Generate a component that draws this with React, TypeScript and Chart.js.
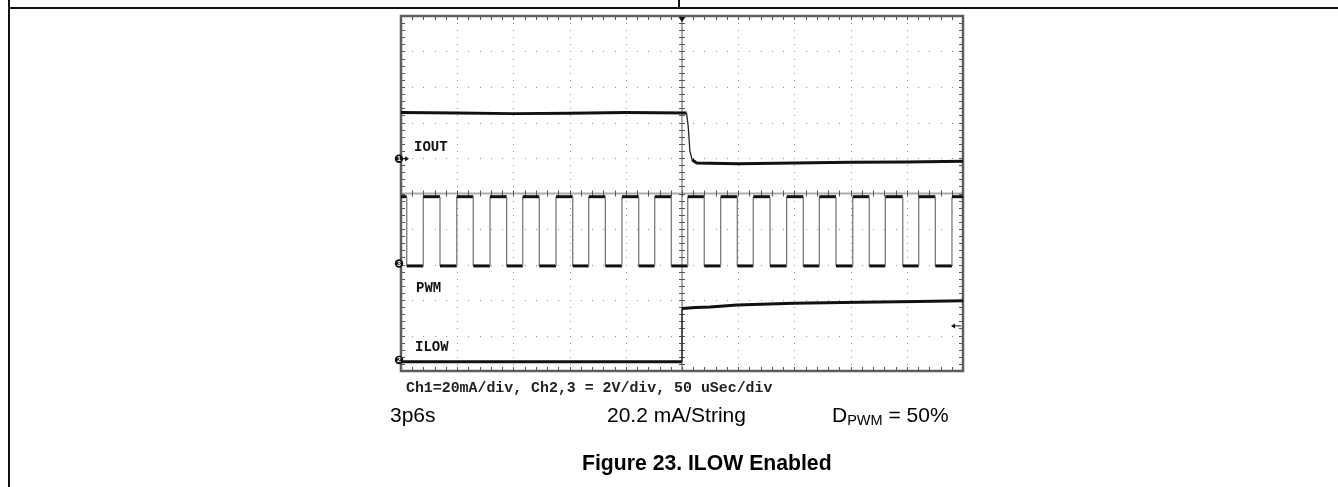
import React, { useEffect, useRef } from "react";
import { Chart, registerables } from "chart.js";

Chart.register(...registerables);

// ---- Data (time in µs, amplitude in screen divisions from the bottom of the graticule) ----
const X_DIVISIONS = 10;
const US_PER_DIV = 50;
const Y_DIVISIONS = 10;
const MINOR_PER_DIV = 5;

const ioutTimeUs = [0, 50, 100, 150, 200, 254, 255.5, 257, 259, 263, 300, 350, 400, 450, 500];
const ioutDiv = [7.28, 7.27, 7.25, 7.26, 7.28, 7.27, 6.9, 6.2, 5.95, 5.86, 5.84, 5.86, 5.88, 5.89, 5.91];

// PWM starts high; each entry toggles the level (fall, rise, fall, ...)
const pwmEdgesUs = [
  5.1, 19.8, 34.7, 49.6, 64.3, 79.2, 94.0, 108.3, 123.0, 137.9, 152.8, 167.0,
  181.8, 196.6, 211.5, 225.7, 240.5, 255.1, 269.8, 284.4, 299.2, 313.4, 328.3,
  343.1, 357.9, 372.2, 387.0, 401.9, 416.6, 430.9, 446.4, 460.6, 475.4, 490.2,
];
const pwmHighDiv = 4.91;
const pwmLowDiv = 2.96;

const ilowTimeUs = [0, 100, 200, 250, 250, 262, 275, 299, 349, 408, 460, 500];
const ilowDiv = [0.26, 0.26, 0.26, 0.26, 1.76, 1.79, 1.8, 1.86, 1.91, 1.94, 1.96, 1.98];

const channelNames = ["1", "3", "2"];
const channelGroundDiv = [5.98, 3.03, 0.31];
const triggerTimeUs = 250;
const triggerLevelDiv = 1.27;

const traceLabels = ["IOUT", "PWM", "ILOW"];
const scaleCaption = "Ch1=20mA/div, Ch2,3 = 2V/div, 50 uSec/div";
const conditionTexts = ["3p6s", "20.2 mA/String"];
const figureCaption = "Figure 23. ILOW Enabled";

// ---- helpers ----
const zip = (xs: number[], ys: number[]) => xs.map((x, i) => ({ x, y: ys[i] }));

function buildPwm() {
  const tEnd = X_DIVISIONS * US_PER_DIV;
  let lvl = pwmHighDiv;
  const pts = [{ x: 0, y: lvl }];
  for (const t of pwmEdgesUs) {
    pts.push({ x: t, y: lvl });
    lvl = lvl === pwmHighDiv ? pwmLowDiv : pwmHighDiv;
    pts.push({ x: t, y: lvl });
  }
  pts.push({ x: tEnd, y: lvl });
  return pts;
}

const steep = (ctx: any) => {
  const dx = Math.abs(ctx.p1.x - ctx.p0.x);
  const dy = Math.abs(ctx.p1.y - ctx.p0.y);
  return dy > 2 * dx + 1;
};

const graticulePlugin = {
  id: "graticule",
  beforeDatasetsDraw(chart: any) {
    const { ctx, chartArea } = chart;
    const { left, right, top, bottom } = chartArea;
    const xs = chart.scales.x;
    const ys = chart.scales.y;
    const tEnd = X_DIVISIONS * US_PER_DIV;
    const minorX = US_PER_DIV / MINOR_PER_DIV;
    const minorY = 1 / MINOR_PER_DIV;
    ctx.save();
    // dotted grid
    ctx.fillStyle = "#8c8c8c";
    for (let i = 1; i < X_DIVISIONS; i++) {
      if (i === X_DIVISIONS / 2) continue;
      const gx = Math.round(xs.getPixelForValue(i * US_PER_DIV));
      for (let j = 1; j < Y_DIVISIONS * MINOR_PER_DIV; j++) {
        const py = Math.round(ys.getPixelForValue(j * minorY));
        ctx.fillRect(gx, py, 1, 1);
      }
    }
    for (let i = 1; i < Y_DIVISIONS; i++) {
      if (i === Y_DIVISIONS / 2) continue;
      const gy = Math.round(ys.getPixelForValue(i));
      for (let j = 1; j < X_DIVISIONS * MINOR_PER_DIV; j++) {
        const px = Math.round(xs.getPixelForValue(j * minorX));
        ctx.fillRect(px, gy, 1, 1);
      }
    }
    // center cross
    const cx = xs.getPixelForValue(tEnd / 2);
    const cy = ys.getPixelForValue(Y_DIVISIONS / 2);
    ctx.strokeStyle = "#ababab";
    ctx.lineWidth = 2;
    ctx.beginPath();
    ctx.moveTo(cx, top);
    ctx.lineTo(cx, bottom);
    ctx.moveTo(left, cy);
    ctx.lineTo(right, cy);
    ctx.stroke();
    ctx.strokeStyle = "#555";
    ctx.lineWidth = 1;
    ctx.beginPath();
    for (let j = 1; j < Y_DIVISIONS * MINOR_PER_DIV; j++) {
      const py = Math.round(ys.getPixelForValue(j * minorY)) + 0.5;
      ctx.moveTo(cx - 3, py);
      ctx.lineTo(cx + 3, py);
      ctx.moveTo(left, py);
      ctx.lineTo(left + 4, py);
      ctx.moveTo(right - 4, py);
      ctx.lineTo(right, py);
    }
    for (let j = 1; j < X_DIVISIONS * MINOR_PER_DIV; j++) {
      const px = Math.round(xs.getPixelForValue(j * minorX)) + 0.5;
      ctx.moveTo(px, cy - 3);
      ctx.lineTo(px, cy + 3);
      ctx.moveTo(px, top);
      ctx.lineTo(px, top + 4);
      ctx.moveTo(px, bottom - 4);
      ctx.lineTo(px, bottom);
    }
    ctx.stroke();
    // border
    ctx.strokeStyle = "#5e5e5e";
    ctx.lineWidth = 2.5;
    ctx.strokeRect(left, top, right - left, bottom - top);
    ctx.restore();
  },
  afterDatasetsDraw(chart: any) {
    const { ctx, chartArea } = chart;
    const { left, right, top } = chartArea;
    const xs = chart.scales.x;
    const ys = chart.scales.y;
    ctx.save();
    ctx.fillStyle = "#111";
    // trigger position marker
    const tx = xs.getPixelForValue(triggerTimeUs);
    ctx.beginPath();
    ctx.moveTo(tx - 3.5, top + 1);
    ctx.lineTo(tx + 3.5, top + 1);
    ctx.lineTo(tx, top + 6);
    ctx.closePath();
    ctx.fill();
    // trigger level arrow
    const ty = ys.getPixelForValue(triggerLevelDiv);
    ctx.beginPath();
    ctx.moveTo(right - 12, ty);
    ctx.lineTo(right - 8, ty - 2.5);
    ctx.lineTo(right - 8, ty + 2.5);
    ctx.closePath();
    ctx.fill();
    ctx.strokeStyle = "#111";
    ctx.lineWidth = 1;
    ctx.beginPath();
    ctx.moveTo(right - 9, ty);
    ctx.lineTo(right - 2, ty);
    ctx.stroke();
    // channel ground markers
    channelNames.forEach((name, i) => {
      const py = ys.getPixelForValue(channelGroundDiv[i]);
      const mx = left - 2;
      ctx.fillStyle = "#111";
      ctx.beginPath();
      ctx.arc(mx, py, 4.2, 0, Math.PI * 2);
      ctx.fill();
      if (i === 0) {
        ctx.strokeStyle = "#111";
        ctx.lineWidth = 1.2;
        ctx.beginPath();
        ctx.moveTo(mx + 3, py);
        ctx.lineTo(left + 6, py);
        ctx.stroke();
        ctx.beginPath();
        ctx.moveTo(left + 4, py - 2.5);
        ctx.lineTo(left + 8, py);
        ctx.lineTo(left + 4, py + 2.5);
        ctx.closePath();
        ctx.fill();
      }
      ctx.fillStyle = "#fff";
      ctx.font = "bold 7px 'Liberation Sans', Arial, sans-serif";
      ctx.textAlign = "center";
      ctx.textBaseline = "middle";
      ctx.fillText(name, mx, py + 0.5);
    });
    ctx.restore();
  },
};

export default function App() {
  const canvasRef = useRef<HTMLCanvasElement | null>(null);

  useEffect(() => {
    if (!canvasRef.current) return;
    const seg = (thinColor: string) => ({
      borderWidth: (c: any) => (steep(c) ? 1.3 : 3),
      borderColor: (c: any) => (steep(c) ? thinColor : "#111"),
    });
    const chart = new Chart(canvasRef.current, {
      type: "line",
      data: {
        datasets: [
          { label: "IOUT", data: zip(ioutTimeUs, ioutDiv), borderColor: "#111", borderWidth: 3, segment: seg("#222") },
          { label: "PWM", data: buildPwm(), borderColor: "#111", borderWidth: 3, segment: seg("#7a7a7a") },
          { label: "ILOW", data: zip(ilowTimeUs, ilowDiv), borderColor: "#111", borderWidth: 3, segment: seg("#222") },
        ],
      },
      options: {
        animation: false,
        responsive: false,
        devicePixelRatio: 1,
        events: [],
        layout: { padding: { left: 401, right: 375, top: 16, bottom: 116 } },
        elements: { point: { radius: 0 }, line: { tension: 0 } },
        plugins: { legend: { display: false }, tooltip: { enabled: false } },
        scales: {
          x: { type: "linear", min: 0, max: X_DIVISIONS * US_PER_DIV, display: false },
          y: { type: "linear", min: 0, max: Y_DIVISIONS, display: false },
        },
      },
      plugins: [graticulePlugin],
    } as any);
    return () => chart.destroy();
  }, []);

  const mono = "'Courier New', 'Liberation Mono', monospace";
  const sans = "'Liberation Sans', Arial, sans-serif";
  const abs = (l: number, t: number, extra: any = {}) => ({
    position: "absolute" as const,
    left: l,
    top: t,
    whiteSpace: "nowrap" as const,
    margin: 0,
    ...extra,
  });
  const labelStyle = (l: number, t: number) =>
    abs(l, t, { font: `bold 14px/14px ${mono}`, color: "#111" });
  const bigStyle = (l: number, t: number) =>
    abs(l, t, { font: `21px/21px ${sans}`, color: "#000" });

  return (
    <div style={{ position: "absolute", left: 0, top: 0, width: 1338, height: 487, background: "#fff", overflow: "hidden" }}>
      {/* document frame */}
      <div style={{ position: "absolute", left: 8, top: 0, width: 2, height: 487, background: "#111" }} />
      <div style={{ position: "absolute", left: 8, top: 7, width: 1330, height: 2, background: "#111" }} />
      <div style={{ position: "absolute", left: 678, top: 0, width: 2, height: 8, background: "#111" }} />
      <canvas ref={canvasRef} width={1338} height={487} style={{ position: "absolute", left: 0, top: 0 }} />
      <div style={labelStyle(414, 140)}>{traceLabels[0]}</div>
      <div style={labelStyle(416, 281)}>{traceLabels[1]}</div>
      <div style={labelStyle(415, 340)}>{traceLabels[2]}</div>
      <div style={abs(406, 381, { font: `bold 14.9px/14.9px ${mono}`, color: "#222" })}>{scaleCaption}</div>
      <div style={bigStyle(390, 403.8)}>{conditionTexts[0]}</div>
      <div style={bigStyle(607, 403.8)}>{conditionTexts[1]}</div>
      <div style={bigStyle(832, 403.8)}>
        D<span style={{ fontSize: 14.5, verticalAlign: -3 }}>PWM</span> = 50%
      </div>
      <div style={abs(582, 452, { font: `bold 21.2px/21px ${sans}`, color: "#000" })}>{figureCaption}</div>
    </div>
  );
}
